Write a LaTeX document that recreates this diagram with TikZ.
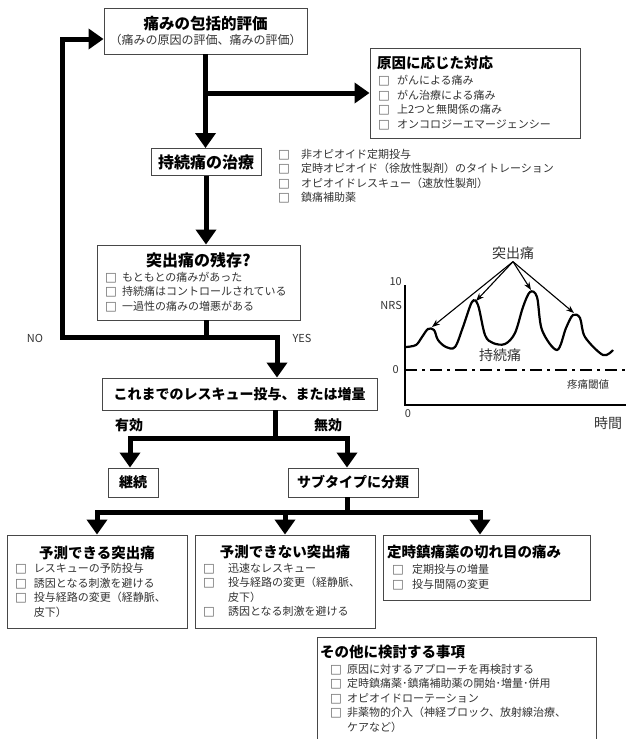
\documentclass[tikz,border=0pt]{standalone}
\usepackage{fontspec}
\setmainfont{Noto Sans CJK JP}
\newfontfamily\symfont{DejaVu Sans}
\usetikzlibrary{arrows.meta, positioning}
\definecolor{boxgray}{rgb}{0.28, 0.28, 0.28}
\definecolor{txtgray}{rgb}{0.2, 0.2, 0.2}
\definecolor{chkgray}{rgb}{0.4, 0.4, 0.4}
\newcommand{\isz}{\fontsize{11}{14.5}\selectfont}
\newcommand{\csz}{\fontsize{14}{16}\selectfont}
\newcommand{\tsz}[1][14.5]{\fontsize{#1}{18}\selectfont\bfseries\color{black}}
\newcommand{\ttl}[2][14.5]{\makebox[\linewidth][c]{\tsz[#1]#2}}
\newcommand{\chk}{{\symfont\fontsize{12.5}{14}\selectfont\color{chkgray}□}}
\newcommand{\itm}[2][19pt]{\hspace*{1pt}\makebox[#1][l]{\chk}#2}
\newcommand{\cnt}[2][19pt]{\hspace*{1pt}\hspace*{#1}#2}

\begin{document}
\begin{tikzpicture}[x=1pt, y=-1pt,
    box/.style={draw=boxgray, line width=0.9pt, inner sep=0pt, font=\isz, text=txtgray},
    flow/.style={line width=5pt},
    flowarr/.style={line width=5pt, -{Triangle[length=15pt, width=20pt]}},
    flowboth/.style={line width=5pt, {Triangle[length=15pt, width=20pt]}-{Triangle[length=15pt, width=20pt]}},
    lbl/.style={font=\isz, text=txtgray, inner sep=1pt},
    axis/.style={line width=2.4pt},
    peakarr/.style={line width=1.1pt, -{Stealth[length=8pt, width=6pt]}}]
  \useasboundingbox (0,0) rectangle (626,739);
  % main flow
  \node[box, minimum width=203pt, minimum height=46pt, align=center] (eval) at (205.5,31)
    {{\tsz[15.5]痛みの包括的評価}\\[1pt]{\fontsize{12}{14}\selectfont （痛みの原因の評価、痛みの評価）}};
  \node[box, text width=196pt, inner xsep=7pt, minimum height=90pt, align=left] (cause) at (475,93)
    {{\tsz 原因に応じた対応}\\[2pt]
     \itm{がんによる痛み}\\
     \itm{がん治療による痛み}\\
     \itm{上2つと無関係の痛み}\\
     \itm{オンコロジーエマージェンシー}};
  \node[box, minimum width=110pt, minimum height=27pt] (treat) at (206,162) {\tsz[16]持続痛の治療};
  \node[lbl, anchor=north west, align=left, inner sep=0pt] (drugs) at (277,149)
    {\itm[23pt]{非オピオイド定期投与}\\
     \itm[23pt]{定時オピオイド（徐放性製剤）のタイトレーション}\\
     \itm[23pt]{オピオイドレスキュー（速放性製剤）}\\
     \itm[23pt]{鎮痛補助薬}};
  \node[box, text width=189pt, inner xsep=7pt, minimum height=75pt, align=left] (remain) at (198.5,282.5)
    {\ttl[16]{突出痛の残存?}\\
     \itm[17pt]{もともとの痛みがあった}\\
     \itm[17pt]{持続痛はコントロールされている}\\
     \itm[17pt]{一過性の痛みの増悪がある}};
  \node[box, minimum width=275pt, minimum height=32pt] (rescue) at (239.5,394) {\tsz[14]これまでのレスキュー投与、または増量};
  \node[box, minimum width=50pt, minimum height=29pt] (cont) at (133,482.5) {\tsz[14]継続};
  \node[box, minimum width=130pt, minimum height=29pt] (sub) at (353,482.5) {\tsz[14]サブタイプに分類};
  % subtypes
  \node[box, text width=166pt, inner xsep=7pt, minimum height=93pt, align=left] (pred) at (97,581.5)
    {\ttl{予測できる突出痛}\\
     \itm{レスキューの予防投与}\\
     \itm{誘因となる刺激を避ける}\\
     \itm{投与経路の変更（経静脈、}\\
     \cnt{皮下）}};
  \node[box, text width=166pt, inner xsep=7pt, minimum height=93pt, align=left] (unpred) at (285,581.5)
    {\ttl{予測できない突出痛}\\
     \itm[25pt]{迅速なレスキュー}\\
     \itm[25pt]{投与経路の変更（経静脈、}\\
     \cnt[25pt]{皮下）}\\
     \itm[25pt]{誘因となる刺激を避ける}};
  \node[box, text width=199pt, inner xsep=4pt, minimum height=65pt, align=left] (gap) at (486.5,567.5)
    {{\tsz 定時鎮痛薬の切れ目の痛み}\\[2pt]
     \hspace*{4pt}\itm[20pt]{定期投与の増量}\\
     \hspace*{4pt}\itm[20pt]{投与間隔の変更}};
  \node[box, text width=273pt, inner xsep=3pt, minimum height=103pt, align=left] (other) at (456.5,689)
    {{\tsz その他に検討する事項}\\[1pt]
     \hspace*{9pt}\itm[17pt]{原因に対するアプローチを再検討する}\\
     \hspace*{9pt}\itm[17pt]{定時鎮痛薬･鎮痛補助薬の開始･増量･併用}\\
     \hspace*{9pt}\itm[17pt]{オピオイドローテーション}\\
     \hspace*{9pt}\itm[17pt]{非薬物的介入（神経ブロック、放射線治療、}\\
     \hspace*{9pt}\cnt[17pt]{ケアなど）}};
  % arrows of the flow
  \draw[flowarr] (eval.south) -- (eval.south |- treat.north);
  \draw[flowarr] (eval.south |- cause.west) -- (cause.west);
  \draw[flowarr] (treat.south) -- (treat.south |- remain.north);
  \coordinate (noturn) at (62,337);
  \coordinate (noup) at (62,39);
  \coordinate (yesturn) at (277,337);
  \draw[flow] (treat.south |- remain.south) -- (treat.south |- noturn);
  \draw[flowboth] (eval.west |- noup) -- (noup) -- (noturn) -- (yesturn) -- (yesturn |- rescue.north);
  \node[lbl] (nolbl) at (35,338) {NO};
  \node[lbl] (yeslbl) at (302,338) {YES};
  \coordinate (split1) at (275,438);
  \coordinate (effl) at (130,438);
  \coordinate (effr) at (347,438);
  \draw[flow] (split1 |- rescue.south) -- (split1);
  \draw[flowboth] (effl |- cont.north) -- (effl) -- (effr) -- (effr |- sub.north);
  \node (eff) at (129,425) {\tsz[14]有効};
  \node (ineff) at (328,425) {\tsz[14]無効};
  \coordinate (split2) at (347,512);
  \coordinate (predtop) at (97,512);
  \coordinate (gaptop) at (480,512);
  \draw[flow] (split2 |- sub.south) -- (split2);
  \draw[flowboth] (predtop |- pred.north) -- (predtop) -- (gaptop) -- (gaptop |- gap.north);
  \draw[flowarr] (unpred.north |- split2) -- (unpred.north);
  % NRS chart
  \coordinate (orig) at (405,405);
  \coordinate (ytop) at (405,285);
  \coordinate (xend) at (626,405);
  \coordinate (thl) at (405,370);
  \coordinate (thr) at (626,370);
  \draw[axis] (ytop) -- (orig) -- (xend);
  \draw[line width=2pt, dash pattern=on 12pt off 5pt on 3pt off 5pt] (thl) -- (thr);
  \node[lbl, anchor=east] (ten) at (403,282) {10};
  \node[lbl, anchor=east] (nrs) at (403,305) {NRS};
  \node[lbl, anchor=east] (zero) at (400,370) {0};
  \node[lbl] (origzero) at (408,414) {0};
  \node[lbl, font=\csz] (time) at (608,423) {時間};
  \node[lbl, font=\fontsize{10.5}{12}\selectfont] (thresh) at (588,385) {疼痛閾値};
  \node[lbl, font=\csz] (persist) at (500,355) {持続痛};
  \node[lbl, font=\csz, inner sep=2pt] (bt) at (513,253) {突出痛};
  \draw[line width=2.2pt] plot[smooth, tension=0.55] coordinates {(406,347) (416,345) (422,337) (428,329) (434,330)
    (438,340) (446,347) (455,347) (463,327) (472,302) (478,305) (485,335) (493,343) (505,344)
    (515,333) (523,307) (530,292) (537,297) (542,330) (557,350) (566,328) (573,315) (580,318)
    (585,337) (603,355) (613,350)};
  \coordinate (pk1) at (432,327);
  \coordinate (pk2) at (476,301);
  \coordinate (pk3) at (531,290);
  \coordinate (pk4) at (574,313);
  \foreach \p in {pk1,pk2,pk3,pk4}{
    \draw[peakarr] (bt.south) -- (\p);
  }
\end{tikzpicture}
\end{document}
